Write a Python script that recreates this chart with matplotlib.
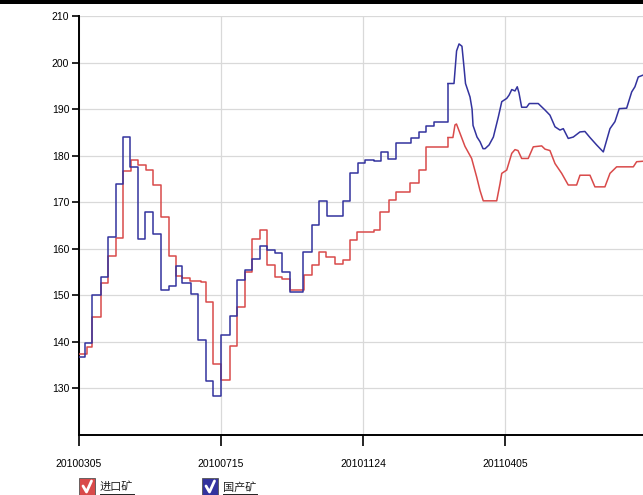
import matplotlib
matplotlib.use('Agg')
import matplotlib.pyplot as plt
from matplotlib.patches import Rectangle
from matplotlib.lines import Line2D

# ---------------- data (x = days since 2010-03-05) ----------------
tick_days = [0, 132, 264, 396]
tick_labels = ['20100305', '20100715', '20101124', '20110405']
y_ticks = [130, 140, 150, 160, 170, 180, 190, 200, 210]

series_names = ['进口矿', '国产矿']

# 进口矿 (red) weekly step part
import_step_days = [0, 7, 12, 20, 27, 34, 41, 48, 55, 62, 69, 76, 84, 90, 96, 103,
                    113, 118, 125, 132, 140, 147, 154, 161, 168, 175, 182, 189, 196,
                    209, 217, 223, 230, 238, 245, 252, 258, 274, 280, 288, 295, 308,
                    316, 323, 343]
import_step_vals = [137.3, 138.9, 145.3, 152.7, 158.4, 162.4, 176.7, 179.0, 178.0,
                    177.0, 173.7, 166.8, 158.4, 154.1, 153.8, 153.1, 152.9, 148.6,
                    135.3, 131.9, 139.2, 147.6, 155.0, 162.2, 164.0, 156.5, 154.0,
                    153.6, 151.1, 154.4, 156.5, 159.3, 158.2, 156.8, 157.5, 161.8,
                    163.6, 164.0, 167.9, 170.4, 172.2, 174.2, 176.9, 181.8, 183.9]
# 进口矿 (red) daily part
import_tail_days = [343, 347.6, 349.5, 350.9, 354.2, 358.8, 365, 369.7, 372.8, 375.8,
                    388.3, 391.4, 393, 397.6, 402.3, 405.3, 408.1, 411.5, 417.6,
                    422.3, 430.1, 433.2, 437.8, 442.5, 448.7, 454.8, 462.6, 465.7,
                    475, 479.6, 488.9, 493.6, 499.8, 515.3, 518.4, 524.3, 528]
import_tail_vals = [183.9, 183.9, 186.6, 186.8, 184.8, 182.0, 179.4, 175.4, 172.5,
                    170.3, 170.3, 174.0, 176.2, 176.9, 180.5, 181.3, 181.1, 179.4,
                    179.4, 181.9, 182.1, 181.4, 181.1, 178.3, 176.2, 173.7, 173.7,
                    175.8, 175.8, 173.3, 173.3, 176.2, 177.6, 177.6, 178.7, 178.8,
                    178.8]

# 国产矿 (blue) weekly step part
domestic_step_days = [0, 6, 12, 20, 27, 34, 41, 47, 55, 61, 69, 76, 84, 90, 96, 104,
                      111, 118, 125, 132, 140, 147, 154, 161, 168, 175, 182, 189, 196,
                      208, 217, 223, 231, 245, 252, 259, 266, 274, 281, 287, 295, 301,
                      309, 316, 323, 330, 343]
domestic_step_vals = [136.7, 139.7, 150.0, 153.9, 162.5, 173.9, 184.0, 177.5, 162.2,
                      167.9, 163.1, 151.1, 152.0, 156.3, 152.7, 150.2, 140.3, 131.7,
                      128.3, 141.4, 145.5, 153.2, 155.4, 157.7, 160.5, 159.7, 159.0,
                      155.0, 150.8, 159.3, 165.1, 170.2, 167.1, 170.2, 176.3, 178.5,
                      179.0, 178.9, 180.8, 179.2, 182.8, 182.7, 183.9, 185.1, 186.3,
                      187.3, 195.5]
# 国产矿 (blue) daily part
domestic_tail_days = [343, 348.6, 351, 353.3, 356, 357.9, 359.3, 363.5, 365.4, 366.3,
                      370, 372.8, 375.6, 377.5, 381.2, 385.2, 389.8, 393, 397.6,
                      399.8, 402.3, 405.3, 407.4, 409, 411.5, 416.1, 418.6, 426.9,
                      433.2, 437.8, 442.5, 447.1, 450.2, 454.8, 459.5, 465.7, 470.3,
                      475, 481.2, 487.4, 493.6, 498.2, 502.2, 509.1, 513.8, 516.8,
                      519.9, 524.3, 528]
domestic_tail_vals = [195.5, 195.5, 202.5, 204.0, 203.5, 199.0, 195.5, 192.6, 190.0,
                      186.5, 184.0, 183.0, 181.5, 181.5, 182.3, 184.0, 188.3, 191.6,
                      192.3, 193.0, 194.2, 193.9, 194.8, 193.5, 190.4, 190.4, 191.2,
                      191.2, 189.8, 188.7, 186.2, 185.5, 185.8, 183.7, 184.0, 185.1,
                      185.2, 183.9, 182.3, 180.8, 185.8, 187.3, 190.1, 190.2, 193.7,
                      194.8, 196.9, 197.3, 197.3]

# ---------------- style ----------------
RED = '#d94a4a'
BLUE = '#33339e'
W, H = 643, 495

plt.rcParams['font.family'] = ['Liberation Sans', 'DejaVu Sans']

fig = plt.figure(figsize=(W / 100, H / 100), dpi=100)
fig.patch.set_facecolor('white')


def fx(px):
    return px / W


def fy(py):
    return 1 - py / H


ax = fig.add_axes([fx(79), fy(435), fx(643) - fx(79), fy(16) - fy(435)])
ax.set_xlim(0, 524.3)
ax.set_ylim(120, 210)

for days, vals, tdays, tvals, col in [
        (import_step_days, import_step_vals, import_tail_days, import_tail_vals, RED),
        (domestic_step_days, domestic_step_vals, domestic_tail_days, domestic_tail_vals, BLUE)]:
    ax.step(days, vals, where='post', color=col, lw=1.1, zorder=3)
    ax.plot(tdays, tvals, color=col, lw=1.1, zorder=3)

ax.set_xticks(tick_days)
ax.set_xticklabels(tick_labels)
ax.set_yticks(y_ticks)
ax.set_yticklabels([str(v) for v in y_ticks])
ax.grid(True, color='#d9d9d9', lw=0.9, zorder=0)
ax.set_axisbelow(True)

for s in ['top', 'right']:
    ax.spines[s].set_visible(False)
for s in ['left', 'bottom']:
    ax.spines[s].set_color('black')
    ax.spines[s].set_linewidth(1.4)

ax.tick_params(axis='x', length=8, width=1.2, pad=9, labelsize=7.5, colors='black')
ax.tick_params(axis='y', length=5, width=1.2, pad=2, labelsize=7.5, colors='black')

# top dark band
fig.patches.append(Rectangle((0, fy(4)), 1, 4 / H, transform=fig.transFigure,
                             facecolor='black', edgecolor='none', zorder=10))

# legend with check boxes
legend_items = [(79, series_names[0], RED), (202, series_names[1], BLUE)]
for x0, name, col in legend_items:
    bx, by, bw, bh = x0, 478, 16, 17
    fig.patches.append(Rectangle((fx(bx), fy(by + bh)), bw / W, bh / H,
                                 transform=fig.transFigure, facecolor=col,
                                 edgecolor='#555555', lw=0.6, zorder=5))
    fig.lines.append(Line2D([fx(bx + 4), fx(bx + 7.5), fx(bx + 12.5)],
                            [fy(by + 8), fy(by + 14), fy(by + 3)],
                            transform=fig.transFigure, color='white', lw=2.0,
                            solid_capstyle='round', solid_joinstyle='round', zorder=6))
    fig.text(fx(bx + 21), fy(by + 9), name, fontsize=8,
             family=['Noto Sans CJK SC', 'DejaVu Sans'], color='#222222',
             va='center', ha='left')
    fig.lines.append(Line2D([fx(bx + 21), fx(bx + 55)], [fy(by + 15.5), fy(by + 15.5)],
                            transform=fig.transFigure, color='#222222', lw=0.7))

fig.savefig('out.png', dpi=100)
